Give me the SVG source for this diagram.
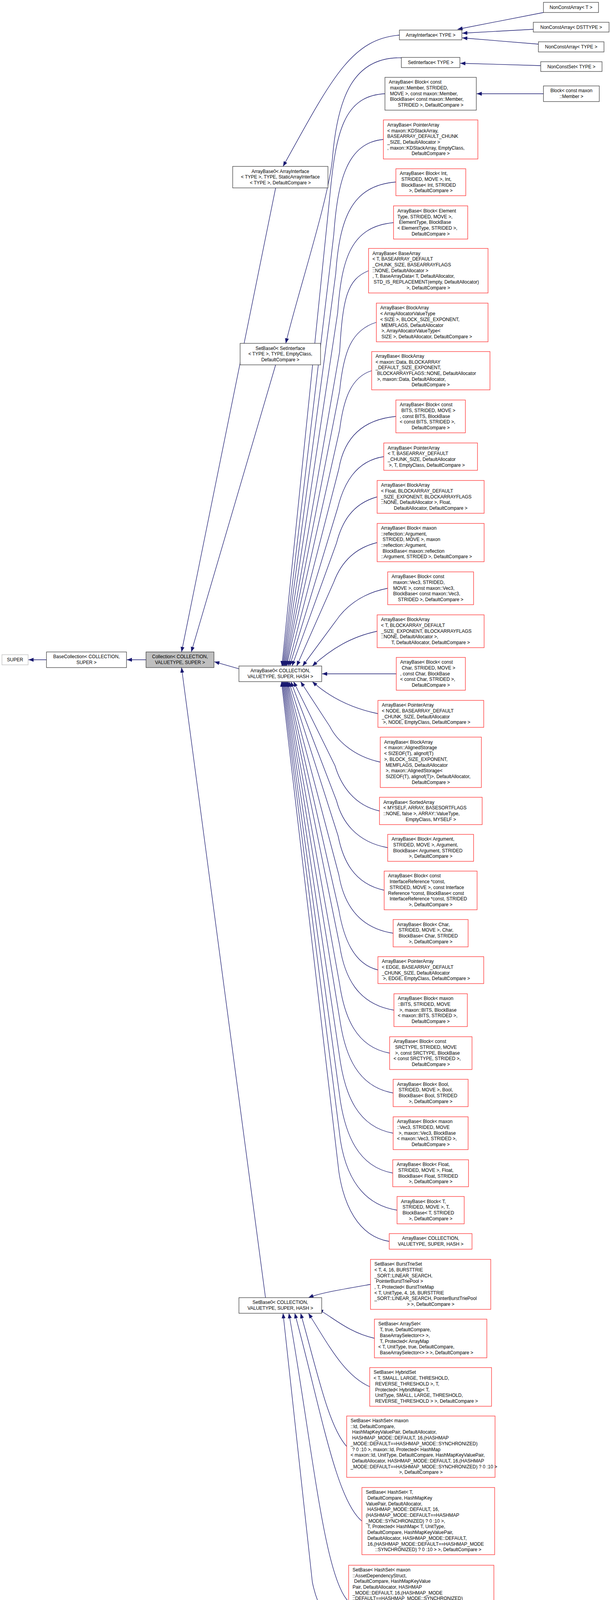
<svg xmlns="http://www.w3.org/2000/svg" width="1565" height="4265" viewBox="0 0 1565 4265">
<style>
.t{font-family:"Liberation Sans",Arial,Helvetica,sans-serif;font-size:12px;fill:#000}
.m{text-anchor:middle}
.n{fill:#fff;stroke:#404040;stroke-width:1.3}
.r{fill:#fff;stroke:#ff3030;stroke-width:1.3}
.g{fill:#bfbfbf;stroke:#404040;stroke-width:1.3}
.w{fill:#fff;stroke:#bfbfbf;stroke-width:1.3}
.e{fill:none;stroke:#191970;stroke-width:1.3}
</style>
<defs>
<marker id="a" viewBox="0 0 10 10" refX="10" refY="5" markerWidth="13" markerHeight="10" preserveAspectRatio="none" markerUnits="userSpaceOnUse" orient="auto"><path d="M0,0 L10,5 L0,10 z" fill="#191970"/></marker>
</defs>
<rect width="1565" height="4265" fill="#fff"/>
<g id="connectors">
<path class="e" marker-end="url(#a)" d="M1392,32 L1172,75"/>
<path class="e" marker-end="url(#a)" d="M1366,75 L1184,85"/>
<path class="e" marker-end="url(#a)" d="M1379,113 L1184,97"/>
<path class="e" marker-end="url(#a)" d="M1385,168 L1179,162"/>
<path class="e" marker-end="url(#a)" d="M1392,240 L1221,240"/>
<path class="e" marker-end="url(#a)" d="M1023,90 C900,100 850,200 725,426"/>
<path class="e" marker-end="url(#a)" d="M1028,148 C905,145 865,250 852,400 C845,500 760,760 732,879"/>
<path class="e" marker-end="url(#a)" d="M706,481 L465,1669"/>
<path class="e" marker-end="url(#a)" d="M706,934 L490,1669"/>
<path class="e" marker-end="url(#a)" d="M612,1712 L549,1694"/>
<path class="e" marker-end="url(#a)" d="M374,1689 L325,1689"/>
<path class="e" marker-end="url(#a)" d="M119,1689 L73,1689"/>
<path class="e" marker-end="url(#a)" d="M680,3322 L465,1709"/>
<path class="e" marker-end="url(#a)" d="M986,240 C880,245 860,340 845,500 L722,1705"/>
<path class="e" marker-end="url(#a)" d="M982,357 C890,365 865,460 855,600 L724,1705"/>
<path class="e" marker-end="url(#a)" d="M1014,466 C900,475 870,560 860,700 L726,1705"/>
<path class="e" marker-end="url(#a)" d="M1008,570 C900,580 875,660 865,800 L728,1705"/>
<path class="e" marker-end="url(#a)" d="M944,693 C890,715 878,760 870,900 L730,1705"/>
<path class="e" marker-end="url(#a)" d="M964,825 C900,845 880,900 870,1000 L732,1705"/>
<path class="e" marker-end="url(#a)" d="M952,949 C900,965 880,1020 870,1100 L734,1705"/>
<path class="e" marker-end="url(#a)" d="M1014,1066 C920,1075 880,1130 868,1200 L738,1705"/>
<path class="e" marker-end="url(#a)" d="M983,1169 C910,1180 880,1240 865,1300 L742,1705"/>
<path class="e" marker-end="url(#a)" d="M966,1272 C900,1290 875,1340 862,1390 L748,1705"/>
<path class="e" marker-end="url(#a)" d="M966,1389 C900,1405 870,1450 855,1490 L760,1705"/>
<path class="e" marker-end="url(#a)" d="M993,1506 C920,1520 880,1560 860,1590 L775,1705"/>
<path class="e" marker-end="url(#a)" d="M966,1616 C900,1630 850,1660 800,1705"/>
<path class="e" marker-end="url(#a)" d="M1015,1725 L825,1725"/>
<path class="e" marker-end="url(#a)" d="M968,1827 C910,1815 850,1790 800,1745"/>
<path class="e" marker-end="url(#a)" d="M974,1951 C900,1935 860,1890 845,1860 L770,1745"/>
<path class="e" marker-end="url(#a)" d="M972,2076 C900,2060 870,2000 858,1960 L752,1745"/>
<path class="e" marker-end="url(#a)" d="M993,2170 C910,2155 875,2100 862,2050 L745,1745"/>
<path class="e" marker-end="url(#a)" d="M984,2279 C905,2262 878,2200 866,2140 L740,1745"/>
<path class="e" marker-end="url(#a)" d="M1007,2389 C915,2375 880,2310 868,2240 L737,1745"/>
<path class="e" marker-end="url(#a)" d="M968,2483 C905,2468 880,2400 868,2330 L735,1745"/>
<path class="e" marker-end="url(#a)" d="M1009,2586 C915,2570 882,2500 870,2420 L733,1745"/>
<path class="e" marker-end="url(#a)" d="M998,2696 C910,2680 882,2600 870,2520 L731,1745"/>
<path class="e" marker-end="url(#a)" d="M1007,2798 C915,2782 885,2700 872,2620 L729,1745"/>
<path class="e" marker-end="url(#a)" d="M1007,2901 C915,2885 885,2800 872,2720 L727,1745"/>
<path class="e" marker-end="url(#a)" d="M1006,3003 C915,2987 885,2900 872,2820 L725,1745"/>
<path class="e" marker-end="url(#a)" d="M1017,3098 C920,3082 885,3000 872,2920 L723,1745"/>
<path class="e" marker-end="url(#a)" d="M997,3178 C915,3165 880,3080 868,3000 L721,1745"/>
<path class="e" marker-end="url(#a)" d="M949,3288 C880,3300 820,3310 790,3322"/>
<path class="e" marker-end="url(#a)" d="M959,3426 C890,3410 850,3370 815,3352"/>
<path class="e" marker-end="url(#a)" d="M947,3550 C880,3520 840,3440 790,3362"/>
<path class="e" marker-end="url(#a)" d="M888,3703 C840,3650 810,3500 770,3362"/>
<path class="e" marker-end="url(#a)" d="M927,3894 C860,3840 820,3600 755,3362"/>
<path class="e" marker-end="url(#a)" d="M893,4100 C830,4040 800,3700 740,3362"/>
<path class="e" marker-end="url(#a)" d="M997,4230 C880,4217 820,4150 800,4050 L725,3362"/>
</g>
<g id="n_super"><rect class="w" x="5" y="1676" width="67" height="26"/><text class="t m" x="38.5" y="1693">SUPER</text></g>
<g id="n_basecollection"><rect class="n" x="119" y="1669" width="205" height="40"/><text class="t m" y="1685.3"><tspan x="221.5">BaseCollection&lt; COLLECTION,</tspan><tspan x="221.5" dy="14.7">SUPER &gt;</tspan></text></g>
<g id="n_collection"><rect class="g" x="374" y="1669" width="174" height="40"/><text class="t m" y="1685.3"><tspan x="461">Collection&lt; COLLECTION,</tspan><tspan x="461" dy="14.7">VALUETYPE, SUPER &gt;</tspan></text></g>
<g id="n_arraybase0_main"><rect class="n" x="612" y="1705" width="212" height="40"/><text class="t m" y="1721.3"><tspan x="718">ArrayBase0&lt; COLLECTION,</tspan><tspan x="718" dy="14.7">VALUETYPE, SUPER, HASH &gt;</tspan></text></g>
<g id="n_setbase0_main"><rect class="n" x="612" y="3322" width="212" height="40"/><text class="t m" y="3338.3"><tspan x="718">SetBase0&lt; COLLECTION,</tspan><tspan x="718" dy="14.7">VALUETYPE, SUPER, HASH &gt;</tspan></text></g>
<g id="n_arraybase0_ai"><rect class="n" x="596" y="426" width="244" height="55"/><text class="t m" y="442.5"><tspan x="718">ArrayBase0&lt; ArrayInterface</tspan><tspan x="718" dy="14.7">&lt; TYPE &gt;, TYPE, StaticArrayInterface</tspan><tspan x="718" dy="14.7">&lt; TYPE &gt;, DefaultCompare &gt;</tspan></text></g>
<g id="n_setbase0_si"><rect class="n" x="615" y="879" width="206" height="55"/><text class="t m" y="895.5"><tspan x="718">SetBase0&lt; SetInterface</tspan><tspan x="718" dy="14.7">&lt; TYPE &gt;, TYPE, EmptyClass,</tspan><tspan x="718" dy="14.7">DefaultCompare &gt;</tspan></text></g>
<g id="n_arrayinterface"><rect class="n" x="1023" y="77" width="160" height="25"/><text class="t m" x="1103" y="94">ArrayInterface&lt; TYPE &gt;</text></g>
<g id="n_setinterface"><rect class="n" x="1028" y="147" width="150" height="26"/><text class="t m" x="1103" y="164">SetInterface&lt; TYPE &gt;</text></g>
<g id="n_nca_t"><rect class="n" x="1392" y="6" width="141" height="26"/><text class="t m" x="1462.5" y="23">NonConstArray&lt; T &gt;</text></g>
<g id="n_nca_dst"><rect class="n" x="1366" y="57" width="194" height="25"/><text class="t m" x="1463" y="74">NonConstArray&lt; DSTTYPE &gt;</text></g>
<g id="n_nca_type"><rect class="n" x="1379" y="107" width="168" height="26"/><text class="t m" x="1463" y="124">NonConstArray&lt; TYPE &gt;</text></g>
<g id="n_ncs_type"><rect class="n" x="1385" y="158" width="157" height="25"/><text class="t m" x="1463.5" y="175">NonConstSet&lt; TYPE &gt;</text></g>
<g id="n_block_member"><rect class="n" x="1392" y="220" width="143" height="40"/><text class="t m" y="236.3"><tspan x="1463.5">Block&lt; const maxon</tspan><tspan x="1463.5" dy="14.7">::Member &gt;</tspan></text></g>
<g id="n_ab_member"><rect class="n" x="986" y="198" width="234" height="84"/><text class="t" y="214.3"><tspan x="996">ArrayBase&lt; Block&lt; const</tspan><tspan x="999" dy="14.7">maxon::Member, STRIDED,</tspan><tspan x="999" dy="14.7">MOVE &gt;, const maxon::Member,</tspan><tspan x="999" dy="14.7">BlockBase&lt; const maxon::Member,</tspan><tspan x="1103" dy="14.7" class="m">STRIDED &gt;, DefaultCompare &gt;</tspan></text></g>
<g id="n_ab_kd"><rect class="r" x="982" y="307" width="242" height="100"/><text class="t" y="323.9"><tspan x="992">ArrayBase&lt; PointerArray</tspan><tspan x="992" dy="14.7">&lt; maxon::KDStackArray,</tspan><tspan x="992" dy="14.7">BASEARRAY_DEFAULT_CHUNK</tspan><tspan x="992" dy="14.7">_SIZE, DefaultAllocator &gt;</tspan><tspan x="992" dy="14.7">, maxon::KDStackArray, EmptyClass,</tspan><tspan x="1103" dy="14.7" class="m">DefaultCompare &gt;</tspan></text></g>
<g id="n_ab_int"><rect class="r" x="1014" y="432" width="179" height="69"/><text class="t" y="448.1"><tspan x="1024">ArrayBase&lt; Block&lt; Int,</tspan><tspan x="1028" dy="14.7">STRIDED, MOVE &gt;, Int,</tspan><tspan x="1028" dy="14.7">BlockBase&lt; Int, STRIDED</tspan><tspan x="1103.5" dy="14.7" class="m">&gt;, DefaultCompare &gt;</tspan></text></g>
<g id="n_ab_elem"><rect class="r" x="1008" y="527" width="190" height="85"/><text class="t" y="543.8"><tspan x="1018">ArrayBase&lt; Block&lt; Element</tspan><tspan x="1018" dy="14.7">Type, STRIDED, MOVE &gt;,</tspan><tspan x="1022" dy="14.7">ElementType, BlockBase</tspan><tspan x="1018" dy="14.7">&lt; ElementType, STRIDED &gt;,</tspan><tspan x="1103" dy="14.7" class="m">DefaultCompare &gt;</tspan></text></g>
<g id="n_ab_basearray"><rect class="r" x="944" y="636" width="306" height="114"/><text class="t" y="652.6"><tspan x="954">ArrayBase&lt; BaseArray</tspan><tspan x="954" dy="14.7">&lt; T, BASEARRAY_DEFAULT</tspan><tspan x="954" dy="14.7">_CHUNK_SIZE, BASEARRAYFLAGS</tspan><tspan x="954" dy="14.7">::NONE, DefaultAllocator &gt;</tspan><tspan x="954" dy="14.7">, T, BaseArrayData&lt; T, DefaultAllocator,</tspan><tspan x="957" dy="14.7">STD_IS_REPLACEMENT(empty, DefaultAllocator)</tspan><tspan x="1097" dy="14.7" class="m">&gt;, DefaultCompare &gt;</tspan></text></g>
<g id="n_ab_aavt"><rect class="r" x="964" y="776" width="286" height="99"/><text class="t" y="792.4"><tspan x="974">ArrayBase&lt; BlockArray</tspan><tspan x="974" dy="14.7">&lt; ArrayAllocatorValueType</tspan><tspan x="974" dy="14.7">&lt; SIZE &gt;, BLOCK_SIZE_EXPONENT,</tspan><tspan x="977" dy="14.7">MEMFLAGS, DefaultAllocator</tspan><tspan x="977" dy="14.7">&gt;, ArrayAllocatorValueType&lt;</tspan><tspan x="977" dy="14.7">SIZE &gt;, DefaultAllocator, DefaultCompare &gt;</tspan></text></g>
<g id="n_ab_data"><rect class="r" x="952" y="900" width="303" height="98"/><text class="t" y="915.9"><tspan x="962">ArrayBase&lt; BlockArray</tspan><tspan x="962" dy="14.7">&lt; maxon::Data, BLOCKARRAY</tspan><tspan x="962" dy="14.7">_DEFAULT_SIZE_EXPONENT,</tspan><tspan x="966" dy="14.7">BLOCKARRAYFLAGS::NONE, DefaultAllocator</tspan><tspan x="966" dy="14.7">&gt;, maxon::Data, DefaultAllocator,</tspan><tspan x="1103" dy="14.7" class="m">DefaultCompare &gt;</tspan></text></g>
<g id="n_ab_cbits"><rect class="r" x="1014" y="1024" width="178" height="84"/><text class="t" y="1040.3"><tspan x="1024">ArrayBase&lt; Block&lt; const</tspan><tspan x="1028" dy="14.7">BITS, STRIDED, MOVE &gt;</tspan><tspan x="1024" dy="14.7">, const BITS, BlockBase</tspan><tspan x="1024" dy="14.7">&lt; const BITS, STRIDED &gt;,</tspan><tspan x="1103" dy="14.7" class="m">DefaultCompare &gt;</tspan></text></g>
<g id="n_ab_ptrt"><rect class="r" x="983" y="1134" width="240" height="70"/><text class="t" y="1150.6"><tspan x="993">ArrayBase&lt; PointerArray</tspan><tspan x="993" dy="14.7">&lt; T, BASEARRAY_DEFAULT</tspan><tspan x="993" dy="14.7">_CHUNK_SIZE, DefaultAllocator</tspan><tspan x="996" dy="14.7">&gt;, T, EmptyClass, DefaultCompare &gt;</tspan></text></g>
<g id="n_ab_bafloat"><rect class="r" x="966" y="1230" width="274" height="84"/><text class="t" y="1246.3"><tspan x="976">ArrayBase&lt; BlockArray</tspan><tspan x="976" dy="14.7">&lt; Float, BLOCKARRAY_DEFAULT</tspan><tspan x="976" dy="14.7">_SIZE_EXPONENT, BLOCKARRAYFLAGS</tspan><tspan x="976" dy="14.7">::NONE, DefaultAllocator &gt;, Float,</tspan><tspan x="1103" dy="14.7" class="m">DefaultAllocator, DefaultCompare &gt;</tspan></text></g>
<g id="n_ab_refl"><rect class="r" x="966" y="1340" width="274" height="98"/><text class="t" y="1355.9"><tspan x="976">ArrayBase&lt; Block&lt; maxon</tspan><tspan x="976" dy="14.7">::reflection::Argument,</tspan><tspan x="980" dy="14.7">STRIDED, MOVE &gt;, maxon</tspan><tspan x="976" dy="14.7">::reflection::Argument,</tspan><tspan x="980" dy="14.7">BlockBase&lt; maxon::reflection</tspan><tspan x="976" dy="14.7">::Argument, STRIDED &gt;, DefaultCompare &gt;</tspan></text></g>
<g id="n_ab_cvec3"><rect class="r" x="993" y="1464" width="220" height="84"/><text class="t" y="1480.3"><tspan x="1003">ArrayBase&lt; Block&lt; const</tspan><tspan x="1007" dy="14.7">maxon::Vec3, STRIDED,</tspan><tspan x="1007" dy="14.7">MOVE &gt;, const maxon::Vec3,</tspan><tspan x="1007" dy="14.7">BlockBase&lt; const maxon::Vec3,</tspan><tspan x="1103" dy="14.7" class="m">STRIDED &gt;, DefaultCompare &gt;</tspan></text></g>
<g id="n_ab_bat"><rect class="r" x="966" y="1574" width="274" height="84"/><text class="t" y="1590.3"><tspan x="976">ArrayBase&lt; BlockArray</tspan><tspan x="976" dy="14.7">&lt; T, BLOCKARRAY_DEFAULT</tspan><tspan x="976" dy="14.7">_SIZE_EXPONENT, BLOCKARRAYFLAGS</tspan><tspan x="976" dy="14.7">::NONE, DefaultAllocator &gt;,</tspan><tspan x="1103" dy="14.7" class="m">T, DefaultAllocator, DefaultCompare &gt;</tspan></text></g>
<g id="n_ab_cchar"><rect class="r" x="1015" y="1683" width="177" height="84"/><text class="t" y="1699.3"><tspan x="1025">ArrayBase&lt; Block&lt; const</tspan><tspan x="1029" dy="14.7">Char, STRIDED, MOVE &gt;</tspan><tspan x="1025" dy="14.7">, const Char, BlockBase</tspan><tspan x="1025" dy="14.7">&lt; const Char, STRIDED &gt;,</tspan><tspan x="1103.5" dy="14.7" class="m">DefaultCompare &gt;</tspan></text></g>
<g id="n_ab_node"><rect class="r" x="968" y="1793" width="271" height="69"/><text class="t" y="1809.1"><tspan x="978">ArrayBase&lt; PointerArray</tspan><tspan x="978" dy="14.7">&lt; NODE, BASEARRAY_DEFAULT</tspan><tspan x="978" dy="14.7">_CHUNK_SIZE, DefaultAllocator</tspan><tspan x="981" dy="14.7">&gt;, NODE, EmptyClass, DefaultCompare &gt;</tspan></text></g>
<g id="n_ab_aligned"><rect class="r" x="974" y="1887" width="259" height="129"/><text class="t" y="1903.7"><tspan x="984">ArrayBase&lt; BlockArray</tspan><tspan x="984" dy="14.7">&lt; maxon::AlignedStorage</tspan><tspan x="984" dy="14.7">&lt; SIZEOF(T), alignof(T)</tspan><tspan x="984" dy="14.7">&gt;, BLOCK_SIZE_EXPONENT,</tspan><tspan x="988" dy="14.7">MEMFLAGS, DefaultAllocator</tspan><tspan x="988" dy="14.7">&gt;, maxon::AlignedStorage&lt;</tspan><tspan x="988" dy="14.7">SIZEOF(T), alignof(T)&gt;, DefaultAllocator,</tspan><tspan x="1103.5" dy="14.7" class="m">DefaultCompare &gt;</tspan></text></g>
<g id="n_ab_sorted"><rect class="r" x="972" y="2041" width="263" height="70"/><text class="t" y="2057.6"><tspan x="982">ArrayBase&lt; SortedArray</tspan><tspan x="982" dy="14.7">&lt; MYSELF, ARRAY, BASESORTFLAGS</tspan><tspan x="982" dy="14.7">::NONE, false &gt;, ARRAY::ValueType,</tspan><tspan x="1103.5" dy="14.7" class="m">EmptyClass, MYSELF &gt;</tspan></text></g>
<g id="n_ab_arg"><rect class="r" x="993" y="2136" width="220" height="69"/><text class="t" y="2152.1"><tspan x="1003">ArrayBase&lt; Block&lt; Argument,</tspan><tspan x="1007" dy="14.7">STRIDED, MOVE &gt;, Argument,</tspan><tspan x="1007" dy="14.7">BlockBase&lt; Argument, STRIDED</tspan><tspan x="1103" dy="14.7" class="m">&gt;, DefaultCompare &gt;</tspan></text></g>
<g id="n_ab_iref"><rect class="r" x="984" y="2230" width="238" height="99"/><text class="t" y="2246.4"><tspan x="994">ArrayBase&lt; Block&lt; const</tspan><tspan x="998" dy="14.7">InterfaceReference *const,</tspan><tspan x="998" dy="14.7">STRIDED, MOVE &gt;, const Interface</tspan><tspan x="994" dy="14.7">Reference *const, BlockBase&lt; const</tspan><tspan x="998" dy="14.7">InterfaceReference *const, STRIDED</tspan><tspan x="1103" dy="14.7" class="m">&gt;, DefaultCompare &gt;</tspan></text></g>
<g id="n_ab_char"><rect class="r" x="1007" y="2354" width="192" height="70"/><text class="t" y="2370.6"><tspan x="1017">ArrayBase&lt; Block&lt; Char,</tspan><tspan x="1021" dy="14.7">STRIDED, MOVE &gt;, Char,</tspan><tspan x="1021" dy="14.7">BlockBase&lt; Char, STRIDED</tspan><tspan x="1103" dy="14.7" class="m">&gt;, DefaultCompare &gt;</tspan></text></g>
<g id="n_ab_edge"><rect class="r" x="968" y="2449" width="271" height="69"/><text class="t" y="2465.1"><tspan x="978">ArrayBase&lt; PointerArray</tspan><tspan x="978" dy="14.7">&lt; EDGE, BASEARRAY_DEFAULT</tspan><tspan x="978" dy="14.7">_CHUNK_SIZE, DefaultAllocator</tspan><tspan x="981" dy="14.7">&gt;, EDGE, EmptyClass, DefaultCompare &gt;</tspan></text></g>
<g id="n_ab_mbits"><rect class="r" x="1009" y="2544" width="188" height="84"/><text class="t" y="2560.3"><tspan x="1019">ArrayBase&lt; Block&lt; maxon</tspan><tspan x="1019" dy="14.7">::BITS, STRIDED, MOVE</tspan><tspan x="1023" dy="14.7">&gt;, maxon::BITS, BlockBase</tspan><tspan x="1019" dy="14.7">&lt; maxon::BITS, STRIDED &gt;,</tspan><tspan x="1103" dy="14.7" class="m">DefaultCompare &gt;</tspan></text></g>
<g id="n_ab_src"><rect class="r" x="998" y="2654" width="211" height="84"/><text class="t" y="2670.3"><tspan x="1008">ArrayBase&lt; Block&lt; const</tspan><tspan x="1012" dy="14.7">SRCTYPE, STRIDED, MOVE</tspan><tspan x="1012" dy="14.7">&gt;, const SRCTYPE, BlockBase</tspan><tspan x="1008" dy="14.7">&lt; const SRCTYPE, STRIDED &gt;,</tspan><tspan x="1103.5" dy="14.7" class="m">DefaultCompare &gt;</tspan></text></g>
<g id="n_ab_bool"><rect class="r" x="1007" y="2763" width="192" height="70"/><text class="t" y="2779.6"><tspan x="1017">ArrayBase&lt; Block&lt; Bool,</tspan><tspan x="1021" dy="14.7">STRIDED, MOVE &gt;, Bool,</tspan><tspan x="1021" dy="14.7">BlockBase&lt; Bool, STRIDED</tspan><tspan x="1103" dy="14.7" class="m">&gt;, DefaultCompare &gt;</tspan></text></g>
<g id="n_ab_mvec3"><rect class="r" x="1007" y="2859" width="192" height="84"/><text class="t" y="2875.3"><tspan x="1017">ArrayBase&lt; Block&lt; maxon</tspan><tspan x="1017" dy="14.7">::Vec3, STRIDED, MOVE</tspan><tspan x="1021" dy="14.7">&gt;, maxon::Vec3, BlockBase</tspan><tspan x="1017" dy="14.7">&lt; maxon::Vec3, STRIDED &gt;,</tspan><tspan x="1103" dy="14.7" class="m">DefaultCompare &gt;</tspan></text></g>
<g id="n_ab_float"><rect class="r" x="1006" y="2969" width="194" height="69"/><text class="t" y="2985.1"><tspan x="1016">ArrayBase&lt; Block&lt; Float,</tspan><tspan x="1020" dy="14.7">STRIDED, MOVE &gt;, Float,</tspan><tspan x="1020" dy="14.7">BlockBase&lt; Float, STRIDED</tspan><tspan x="1103" dy="14.7" class="m">&gt;, DefaultCompare &gt;</tspan></text></g>
<g id="n_ab_t"><rect class="r" x="1017" y="3063" width="172" height="70"/><text class="t" y="3079.6"><tspan x="1027">ArrayBase&lt; Block&lt; T,</tspan><tspan x="1031" dy="14.7">STRIDED, MOVE &gt;, T,</tspan><tspan x="1031" dy="14.7">BlockBase&lt; T, STRIDED</tspan><tspan x="1103" dy="14.7" class="m">&gt;, DefaultCompare &gt;</tspan></text></g>
<g id="n_ab_coll"><rect class="r" x="997" y="3158" width="212" height="40"/><text class="t m" y="3174.3"><tspan x="1103">ArrayBase&lt; COLLECTION,</tspan><tspan x="1103" dy="14.7">VALUETYPE, SUPER, HASH &gt;</tspan></text></g>
<g id="n_sb_burst"><rect class="r" x="949" y="3224" width="308" height="128"/><text class="t" y="3240.2"><tspan x="959">SetBase&lt; BurstTrieSet</tspan><tspan x="959" dy="14.7">&lt; T, 4, 16, BURSTTRIE</tspan><tspan x="959" dy="14.7">_SORT::LINEAR_SEARCH,</tspan><tspan x="963" dy="14.7">PointerBurstTriePool &gt;</tspan><tspan x="959" dy="14.7">, T, Protected&lt; BurstTrieMap</tspan><tspan x="959" dy="14.7">&lt; T, UnitType, 4, 16, BURSTTRIE</tspan><tspan x="959" dy="14.7">_SORT::LINEAR_SEARCH, PointerBurstTriePool</tspan><tspan x="1103" dy="14.7" class="m">&gt; &gt;, DefaultCompare &gt;</tspan></text></g>
<g id="n_sb_arrayset"><rect class="r" x="959" y="3377" width="288" height="99"/><text class="t" y="3393.4"><tspan x="969">SetBase&lt; ArraySet&lt;</tspan><tspan x="973" dy="14.7">T, true, DefaultCompare,</tspan><tspan x="973" dy="14.7">BaseArraySelector&lt;&gt; &gt;,</tspan><tspan x="973" dy="14.7">T, Protected&lt; ArrayMap</tspan><tspan x="969" dy="14.7">&lt; T, UnitType, true, DefaultCompare,</tspan><tspan x="973" dy="14.7">BaseArraySelector&lt;&gt; &gt; &gt;, DefaultCompare &gt;</tspan></text></g>
<g id="n_sb_hybrid"><rect class="r" x="947" y="3501" width="312" height="99"/><text class="t" y="3517.4"><tspan x="957">SetBase&lt; HybridSet</tspan><tspan x="957" dy="14.7">&lt; T, SMALL, LARGE, THRESHOLD,</tspan><tspan x="961" dy="14.7">REVERSE_THRESHOLD &gt;, T,</tspan><tspan x="961" dy="14.7">Protected&lt; HybridMap&lt; T,</tspan><tspan x="961" dy="14.7">UnitType, SMALL, LARGE, THRESHOLD,</tspan><tspan x="961" dy="14.7">REVERSE_THRESHOLD &gt; &gt;, DefaultCompare &gt;</tspan></text></g>
<g id="n_sb_hashid"><rect class="r" x="888" y="3625" width="380" height="157"/><text class="t" y="3641"><tspan x="898">SetBase&lt; HashSet&lt; maxon</tspan><tspan x="898" dy="14.7">::Id, DefaultCompare,</tspan><tspan x="902" dy="14.7">HashMapKeyValuePair, DefaultAllocator,</tspan><tspan x="902" dy="14.7">HASHMAP_MODE::DEFAULT, 16,(HASHMAP</tspan><tspan x="898" dy="14.7">_MODE::DEFAULT==HASHMAP_MODE::SYNCHRONIZED)</tspan><tspan x="902" dy="14.7">? 0 :10 &gt;, maxon::Id, Protected&lt; HashMap</tspan><tspan x="898" dy="14.7">&lt; maxon::Id, UnitType, DefaultCompare, HashMapKeyValuePair,</tspan><tspan x="902" dy="14.7">DefaultAllocator, HASHMAP_MODE::DEFAULT, 16,(HASHMAP</tspan><tspan x="898" dy="14.7">_MODE::DEFAULT==HASHMAP_MODE::SYNCHRONIZED) ? 0 :10 &gt;</tspan><tspan x="1078" dy="14.7" class="m">&gt;, DefaultCompare &gt;</tspan></text></g>
<g id="n_sb_hasht"><rect class="r" x="927" y="3808" width="340" height="172"/><text class="t" y="3824.2"><tspan x="937">SetBase&lt; HashSet&lt; T,</tspan><tspan x="941" dy="14.7">DefaultCompare, HashMapKey</tspan><tspan x="937" dy="14.7">ValuePair, DefaultAllocator,</tspan><tspan x="941" dy="14.7">HASHMAP_MODE::DEFAULT, 16,</tspan><tspan x="937" dy="14.7">(HASHMAP_MODE::DEFAULT==HASHMAP</tspan><tspan x="937" dy="14.7">_MODE::SYNCHRONIZED) ? 0 :10 &gt;,</tspan><tspan x="941" dy="14.7">T, Protected&lt; HashMap&lt; T, UnitType,</tspan><tspan x="941" dy="14.7">DefaultCompare, HashMapKeyValuePair,</tspan><tspan x="941" dy="14.7">DefaultAllocator, HASHMAP_MODE::DEFAULT,</tspan><tspan x="941" dy="14.7">16,(HASHMAP_MODE::DEFAULT==HASHMAP_MODE</tspan><tspan x="1097" dy="14.7" class="m">::SYNCHRONIZED) ? 0 :10 &gt; &gt;, DefaultCompare &gt;</tspan></text></g>
<g id="n_sb_asset"><rect class="r" x="893" y="4007" width="372" height="186"/><text class="t" y="4022.8"><tspan x="903">SetBase&lt; HashSet&lt; maxon</tspan><tspan x="903" dy="14.7">::AssetDependencyStruct,</tspan><tspan x="907" dy="14.7">DefaultCompare, HashMapKeyValue</tspan><tspan x="903" dy="14.7">Pair, DefaultAllocator, HASHMAP</tspan><tspan x="903" dy="14.7">_MODE::DEFAULT, 16,(HASHMAP_MODE</tspan><tspan x="903" dy="14.7">::DEFAULT==HASHMAP_MODE::SYNCHRONIZED)</tspan><tspan x="907" dy="14.7">? 0 :10 &gt;, maxon::AssetDependencyStruct,</tspan><tspan x="907" dy="14.7">Protected&lt; HashMap&lt; maxon::AssetDependencyStruct,</tspan><tspan x="907" dy="14.7">UnitType, DefaultCompare, HashMapKeyValuePair,</tspan><tspan x="907" dy="14.7">DefaultAllocator, HASHMAP_MODE::DEFAULT, 16,(HASHMAP</tspan><tspan x="903" dy="14.7">_MODE::DEFAULT==HASHMAP_MODE::SYNCHRONIZED) ? 0 :10</tspan><tspan x="1079" dy="14.7" class="m">&gt; &gt;, DefaultCompare &gt;</tspan></text></g>
<g id="n_sb_coll"><rect class="n" x="997" y="4210" width="212" height="41"/><text class="t m" y="4226.8"><tspan x="1103">SetBase&lt; COLLECTION,</tspan><tspan x="1103" dy="14.7">VALUETYPE, SUPER, HASH &gt;</tspan></text></g>
</svg>
